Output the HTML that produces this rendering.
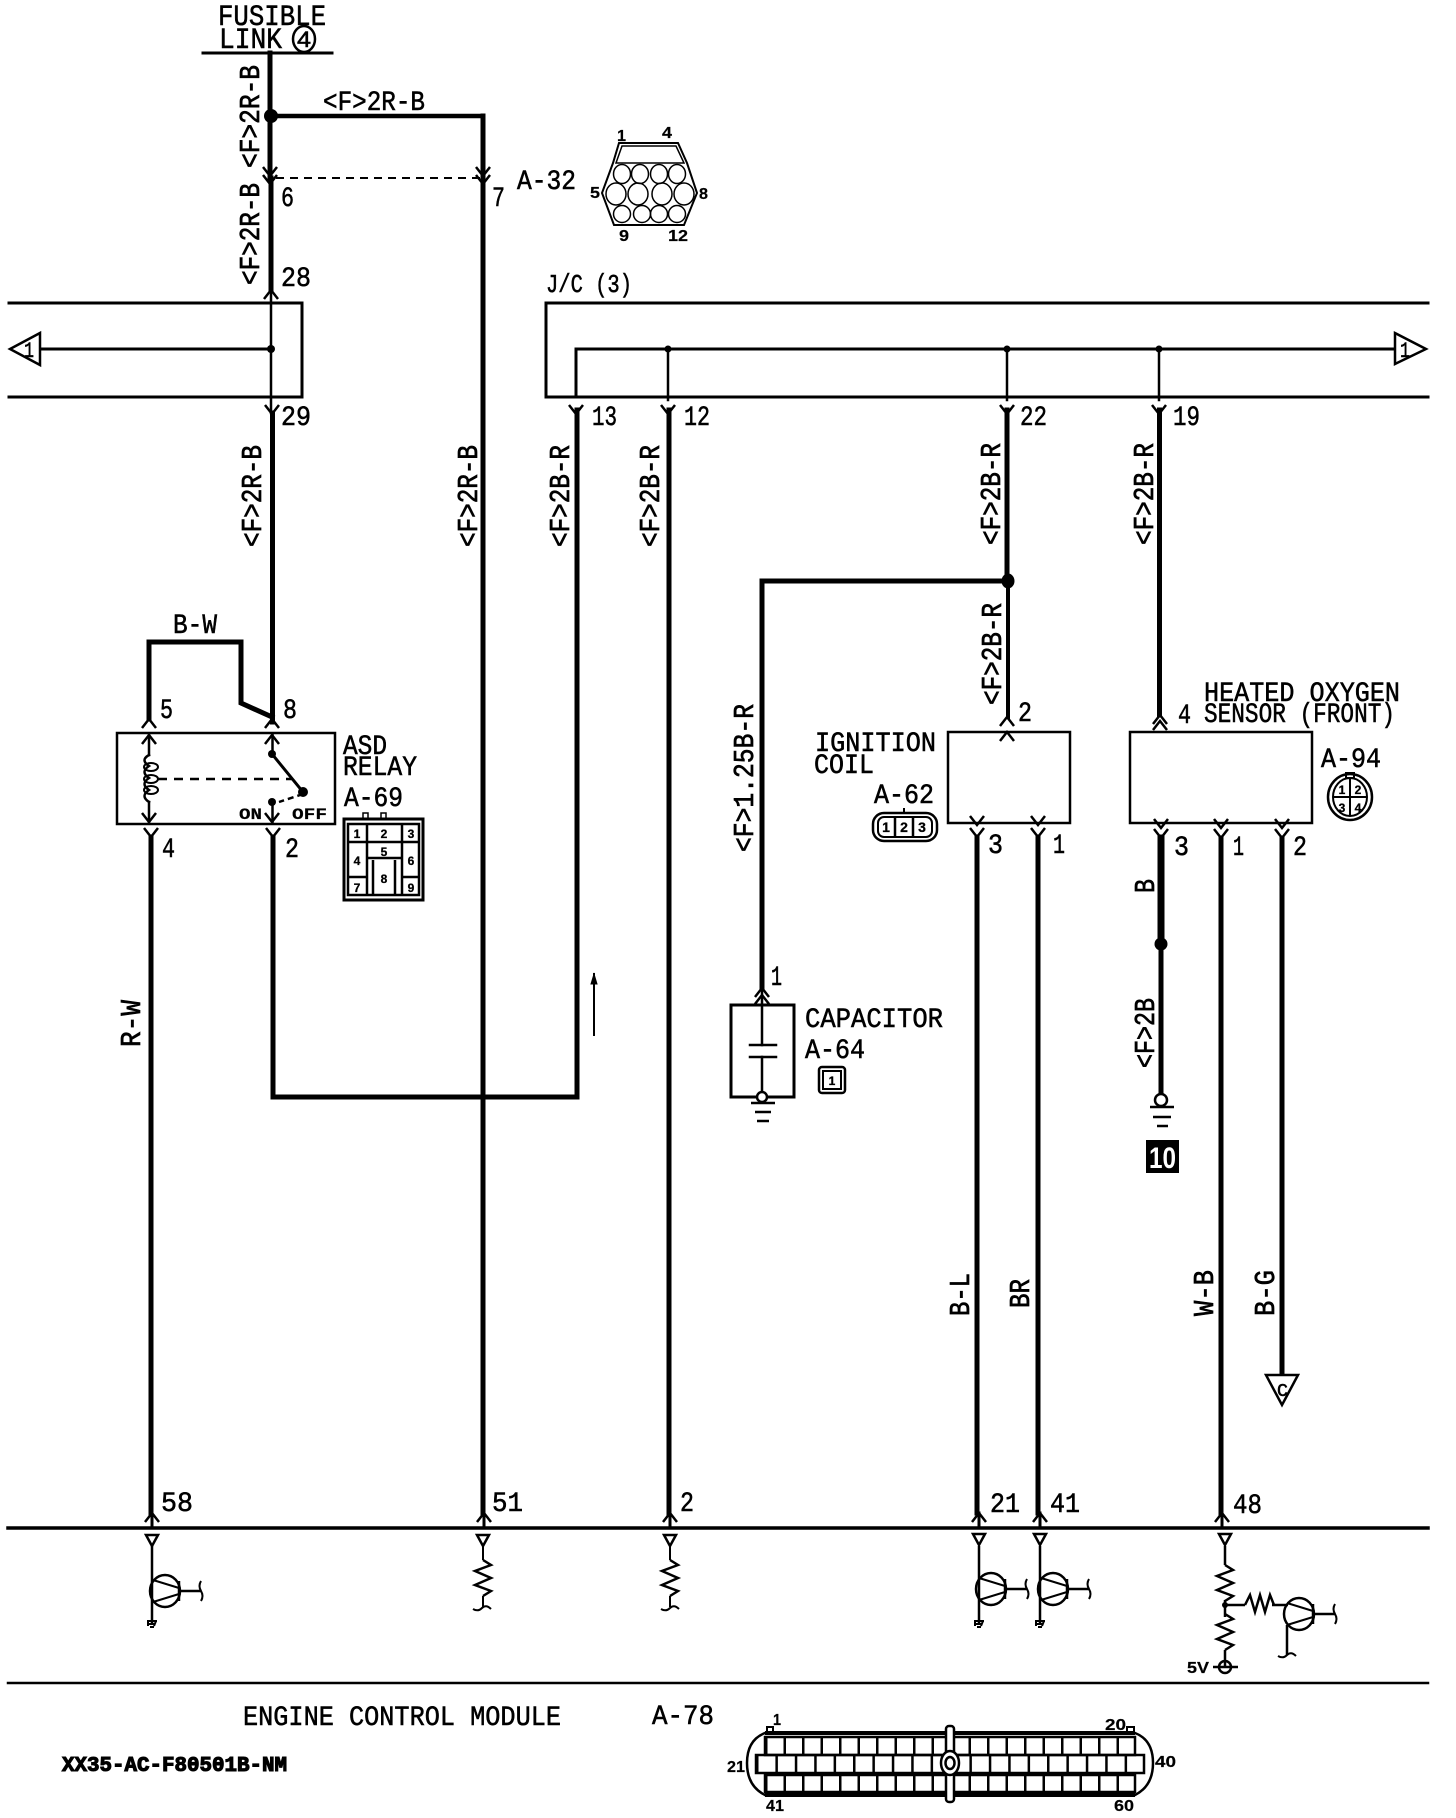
<!DOCTYPE html>
<html><head><meta charset="utf-8"><style>
html,body{margin:0;padding:0;background:#fff}
svg{display:block}
text{font-family:"Liberation Mono",monospace;fill:#000;font-size:28px;stroke:#000;stroke-width:.55}
.r{font-size:29px;stroke-width:.7}
.s{font-family:"Liberation Sans",sans-serif;font-weight:bold;font-size:16px;stroke-width:.2}
.c{font-family:"Liberation Sans",sans-serif;font-weight:bold;font-size:12px;text-anchor:middle;stroke-width:.3}
</style></head><body>
<svg width="1456" height="1818" viewBox="0 0 1456 1818" xmlns="http://www.w3.org/2000/svg">
<defs>
<path id="d" d="M-7,-9 L0,0 L7,-9" fill="none" stroke="#000" stroke-width="2.5"/>
<path id="u" d="M-7,9 L0,0 L7,9" fill="none" stroke="#000" stroke-width="2.5"/>
<path id="tri" d="M-6,0 H6 L0,11 Z" fill="#fff" stroke="#000" stroke-width="2.5"/>
<path id="sq" d="M-9,3 Q-4,6 0,2 Q4,-2 9,3" fill="none" stroke="#000" stroke-width="2"/>
<path id="gnd" d="M-5,-3 H5 M-3,0 H3 M-2,3 H2 M-4,-3 L-4,2 M4,-3 L2,2" fill="none" stroke="#000" stroke-width="2"/>
<g id="res" fill="none" stroke="#000" stroke-width="2.5"><path d="M0,0 L8,5 L-8,11 L8,18 L-8,25 L8,31 L0,36"/></g>
<g id="tr" fill="none" stroke="#000"><ellipse cx="0" cy="0" rx="15" ry="16" stroke-width="2.5"/><path d="M14,-10 V10" stroke-width="2.5"/><path d="M14,-3 L-12,-11 M14,3 L-12,11" stroke-width="2"/><path d="M14,0 H36" stroke-width="2.5"/><path d="M36,-10 Q33,-5 36,0 Q39,5 36,10" stroke-width="2"/></g>
<pattern id="pa" x="765" y="0" width="18.5" height="20" patternUnits="userSpaceOnUse"><rect width="2.5" height="20" fill="#000"/></pattern>
<pattern id="pb" x="756" y="0" width="19.4" height="20" patternUnits="userSpaceOnUse"><rect width="2.5" height="20" fill="#000"/></pattern>
</defs>

<g fill="none" stroke="#000" stroke-linecap="square">
<!-- frame -->
<path d="M203,53 H332" stroke-width="3"/>
<path d="M9,303 H302 V397 H9" stroke-width="3"/>
<path d="M1428,303 H546 V397 H1428" stroke-width="3"/>
<path d="M8,1528 H1428" stroke-width="3.5"/>
<path d="M8,1683 H1428" stroke-width="2.5"/>
<path d="M40,349 H271" stroke-width="3"/>
<path d="M576,397 V349 H1396" stroke-width="3"/>
<!-- top wires -->
<path d="M270,53 V178 M271,178 V290" stroke-width="5"/>
<path d="M271,290 V413" stroke-width="2.5"/>
<path d="M272.500,413 V722" stroke-width="5"/>
<path d="M270,116 H483" stroke-width="4.500"/>
<path d="M483,116 V1513" stroke-width="5"/>
<path d="M577,410 V1097 H273 V837" stroke-width="5"/>
<path d="M668,349 V400" stroke-width="2.500"/>
<path d="M669,410 V1513" stroke-width="5"/>
<path d="M1007,349 V400" stroke-width="2.500"/>
<path d="M1007,410 V581" stroke-width="5"/>
<path d="M1008,581 V717" stroke-width="4"/>
<path d="M1007,581 H762 V988" stroke-width="5"/>
<path d="M1159,349 V400" stroke-width="2.500"/>
<path d="M1159.500,410 V715" stroke-width="5"/>
<path d="M149,719 V642 H241 V703 L272,717" stroke-width="5"/>
<path d="M151,837 V1513" stroke-width="5"/>
<path d="M977,837 V1513" stroke-width="5"/>
<path d="M1038,837 V1513" stroke-width="5"/>
<path d="M1161,838 V944" stroke-width="7"/>
<path d="M1161,944 V1097" stroke-width="5"/>
<path d="M1221,838 V1513" stroke-width="5"/>
<path d="M1282,838 V1375" stroke-width="5"/>
<path d="M276,178 H483" stroke-width="2" stroke-dasharray="8 6" stroke-linecap="butt"/>
<path d="M594,1035 V974" stroke-width="2"/>
<path d="M152,1513 V1528 M484,1513 V1528 M670,1513 V1528 M979,1513 V1528 M1040,1513 V1528 M1222,1513 V1528" stroke-width="3"/>
<!-- boxes -->
<rect x="117" y="733" width="218" height="91" stroke-width="2.500"/>
<rect x="948" y="732" width="122" height="91" stroke-width="2.500"/>
<rect x="1130" y="732" width="182" height="91" stroke-width="2.500"/>
<rect x="731" y="1005" width="63" height="92" stroke-width="3"/>
<!-- relay internals -->
<path d="M149,735 V755 M149,802 V822 M272.500,735 V754 M272.500,802 V822" stroke-width="2.500"/>
<path d="M149,755 Q140,760 149,766 Q140,772 149,778 Q140,784 149,790 Q140,796 149,802" stroke-width="2.500"/>
<ellipse cx="151" cy="767" rx="7" ry="4" stroke-width="2"/><ellipse cx="151" cy="779" rx="7" ry="4" stroke-width="2"/><ellipse cx="151" cy="790" rx="7" ry="4" stroke-width="2"/>
<path d="M158,779 H293" stroke-width="2.500" stroke-dasharray="9 7" stroke-linecap="butt"/>
<path d="M272,754 L303,792" stroke-width="3"/>
<path d="M303,794 L279,802" stroke-width="2.500" stroke-dasharray="6 4" stroke-linecap="butt"/>
<!-- capacitor -->
<path d="M762,988 V1045 M762,1057 V1097" stroke-width="2.500"/>
<path d="M750,1045 H776 M750,1057 H776" stroke-width="2.500"/>
<circle cx="762" cy="1097" r="5" fill="#fff" stroke-width="2.500"/>
<path d="M751,1103 H775 M755,1112 H771 M757,1121 H769" stroke-width="2.500" stroke-linecap="butt"/>
<circle cx="1161" cy="1100" r="6" fill="#fff" stroke-width="2.500"/>
<path d="M1150,1107 H1174 M1153,1117 H1171 M1157,1126 H1168" stroke-width="2.500" stroke-linecap="butt"/>
<!-- triangles -->
<path d="M40,333 V365 L10,349 Z" fill="#fff" stroke-width="2.500"/>
<path d="M1395,333 V364 L1426,349 Z" fill="#fff" stroke-width="2.500"/>
<path d="M1271,1375 H1303 L1287,1405 Z" fill="#fff" stroke-width="2.500" transform="translate(-5,0)"/>
<path d="M594,974 L591,984 H597 Z" fill="#000" stroke-width="1"/>
</g>

<!-- junctions -->
<g fill="#000" stroke="none">
<ellipse cx="271" cy="116" rx="7" ry="7"/>
<circle cx="271" cy="349" r="4"/>
<circle cx="668" cy="349" r="3.500"/><circle cx="1007" cy="349" r="3.500"/><circle cx="1159" cy="349" r="3.500"/>
<ellipse cx="1008" cy="581" rx="6.500" ry="7.500"/>
<ellipse cx="1161" cy="944" rx="6.500" ry="6.500"/>
<circle cx="272" cy="754" r="4"/><circle cx="272" cy="802" r="4"/><circle cx="303" cy="792" r="5"/>
</g>

<!-- chevrons -->
<use href="#d" x="270" y="176"/><use href="#d" x="270" y="184"/>
<use href="#d" x="483" y="176"/><use href="#d" x="483" y="184"/>
<use href="#u" x="271" y="290"/>
<use href="#d" x="272" y="414"/><use href="#d" x="576" y="414"/><use href="#d" x="668" y="414"/><use href="#d" x="1007" y="414"/><use href="#d" x="1159" y="414"/>
<use href="#u" x="149" y="719"/><use href="#u" x="149" y="735"/><use href="#u" x="272" y="719"/><use href="#u" x="272" y="735"/>
<use href="#d" x="149" y="822"/><use href="#d" x="151" y="837"/><use href="#d" x="272" y="822"/><use href="#d" x="273" y="837"/>
<use href="#u" x="1007" y="717"/><use href="#u" x="1007" y="732"/>
<use href="#u" x="1160" y="715"/><use href="#u" x="1160" y="721"/>
<use href="#u" x="762" y="988"/><use href="#u" x="762" y="995"/>
<use href="#d" x="977" y="825"/><use href="#d" x="977" y="837"/><use href="#d" x="1038" y="825"/><use href="#d" x="1038" y="837"/>
<use href="#d" x="1161" y="828"/><use href="#d" x="1161" y="838"/><use href="#d" x="1221" y="828"/><use href="#d" x="1221" y="838"/><use href="#d" x="1282" y="828"/><use href="#d" x="1282" y="838"/>
<use href="#u" x="152" y="1513"/><use href="#u" x="484" y="1513"/><use href="#u" x="670" y="1513"/><use href="#u" x="979" y="1513"/><use href="#u" x="1040" y="1513"/><use href="#u" x="1222" y="1513"/>

<!-- ECU internals -->
<g fill="none" stroke="#000" stroke-width="2.500">
<use href="#tri" x="152" y="1535"/><use href="#tri" x="483" y="1535"/><use href="#tri" x="670" y="1535"/><use href="#tri" x="979" y="1534"/><use href="#tri" x="1040" y="1534"/><use href="#tri" x="1225" y="1534"/>
<path d="M152,1546 V1623 M979,1546 V1623 M1040,1546 V1623" stroke-width="2.500"/>
<path d="M483,1546 V1560 M483,1596 V1607 M670,1546 V1560 M670,1596 V1607" stroke-width="2"/>
<path d="M1225,1546 V1565 M1225,1600 V1617 M1225,1650 V1667" stroke-width="2.500"/>
<path d="M1225,1605 H1245 M1272,1605 H1288 M1287,1625 V1655" stroke-width="2.500"/>
<path d="M1245,1605 L1250,1595 L1255,1612 L1260,1595 L1265,1612 L1270,1595 L1274,1605" stroke-width="2.500"/>
<circle cx="1225" cy="1667" r="6"/><path d="M1213,1667 H1238" />
</g>
<use href="#tr" x="165" y="1591"/><use href="#tr" x="991" y="1589"/><use href="#tr" x="1053" y="1589"/><use href="#tr" x="1299" y="1614"/>
<use href="#res" x="483" y="1560"/><use href="#res" x="670" y="1560"/><use href="#res" x="1225" y="1565"/><use href="#res" x="1225" y="1614"/>
<use href="#sq" x="482" y="1606"/><use href="#sq" x="670" y="1606"/><use href="#sq" x="1287" y="1653"/>
<use href="#gnd" x="152" y="1624"/><use href="#gnd" x="979" y="1624"/><use href="#gnd" x="1040" y="1624"/>
<circle cx="1225" cy="1605" r="3" fill="#000"/>

<!-- A-32 connector -->
<g fill="none" stroke="#000" stroke-width="2">
<path d="M619,143 H678 L687,163 L697,193 L684,225 H614 L602,193 L613,163 Z"/>
<path d="M622,146 H676 L684,163 H616 Z" stroke-width="1.500"/>
<ellipse cx="622" cy="174" rx="8.500" ry="9.500" stroke-width="1.500"/><ellipse cx="640" cy="174" rx="8.500" ry="9.500" stroke-width="1.500"/><ellipse cx="659" cy="174" rx="8.500" ry="9.500" stroke-width="1.500"/><ellipse cx="677" cy="174" rx="8.500" ry="9.500" stroke-width="1.500"/>
<ellipse cx="616" cy="194" rx="10" ry="11" stroke-width="1.500"/><ellipse cx="638" cy="194" rx="10" ry="11" stroke-width="1.500"/><ellipse cx="662" cy="194" rx="10" ry="11" stroke-width="1.500"/><ellipse cx="684" cy="194" rx="10" ry="11" stroke-width="1.500"/>
<ellipse cx="622" cy="214" rx="8.500" ry="8.500" stroke-width="1.500"/><ellipse cx="642" cy="214" rx="8.500" ry="8.500" stroke-width="1.500"/><ellipse cx="659" cy="214" rx="8.500" ry="8.500" stroke-width="1.500"/><ellipse cx="677" cy="214" rx="8.500" ry="8.500" stroke-width="1.500"/>
</g>

<!-- A-69 connector -->
<g fill="none" stroke="#000">
<rect x="344" y="819" width="79" height="81" stroke-width="3"/>
<rect x="348" y="824" width="71" height="71" stroke-width="2.500"/>
<path d="M367,824 V895 M402,824 V895 M348,842 H419 M367,858 H402 M348,877 H367 M402,877 H419 M373,860 V895 M395,860 V895" stroke-width="2.500"/>
<rect x="363" y="813" width="5" height="6" stroke-width="1.500"/><rect x="381" y="813" width="5" height="6" stroke-width="1.500"/>
</g>
<text class="c" x="357" y="838">1</text><text class="c" x="384" y="838">2</text><text class="c" x="411" y="838">3</text>
<text class="c" x="357" y="865">4</text><text class="c" x="384" y="856">5</text><text class="c" x="411" y="865">6</text>
<text class="c" x="357" y="892">7</text><text class="c" x="384" y="883">8</text><text class="c" x="411" y="892">9</text>

<!-- A-62 connector -->
<g fill="none" stroke="#000" stroke-width="2.500">
<rect x="873" y="813" width="64" height="28" rx="11"/>
<rect x="878" y="817" width="54" height="20" rx="6" stroke-width="2"/>
<path d="M895,817 V837 M913,817 V837" stroke-width="2.500"/>
<path d="M904,812 V808" stroke-width="2"/>
</g>
<text class="c" x="886" y="832" style="font-size:14px">1</text><text class="c" x="904" y="832" style="font-size:14px">2</text><text class="c" x="922" y="832" style="font-size:14px">3</text>

<!-- A-94 connector -->
<g fill="none" stroke="#000" stroke-width="2.500">
<ellipse cx="1350" cy="797" rx="22" ry="23"/>
<ellipse cx="1350" cy="797" rx="17" ry="19" stroke-width="2"/>
<path d="M1350,778 V816 M1333,797 H1367" stroke-width="2"/>
<rect x="1346" y="773" width="8" height="5" stroke-width="2"/>
</g>
<text class="c" x="1342" y="794" style="font-size:12px">1</text><text class="c" x="1358" y="794" style="font-size:12px">2</text><text class="c" x="1342" y="812" style="font-size:12px">3</text><text class="c" x="1358" y="812" style="font-size:12px">4</text>

<!-- A-64 connector -->
<g fill="none" stroke="#000"><rect x="819" y="1067" width="26" height="26" rx="3" stroke-width="2.500"/><rect x="823" y="1071" width="18" height="18" stroke-width="2"/></g>
<text class="c" x="832" y="1085">1</text>

<!-- ECU connector -->
<g fill="none" stroke="#000">
<path d="M765,1733 H1135 Q1153,1740 1153,1763 Q1153,1786 1135,1795 H765 Q747,1786 747,1763 Q747,1740 765,1733 Z" stroke-width="2.500"/>
<path d="M765,1733 H1135 M765,1795 H1135" stroke-width="4"/>
<rect x="765" y="1737" width="370" height="18" stroke-width="2.500"/>
<rect x="756" y="1755" width="388" height="18" stroke-width="2.500"/>
<rect x="765" y="1775" width="370" height="17" stroke-width="2.500"/>
</g>
<rect x="765" y="1737" width="370" height="18" fill="url(#pa)"/>
<rect x="756" y="1755" width="388" height="18" fill="url(#pb)"/>
<rect x="765" y="1775" width="370" height="17" fill="url(#pa)"/>
<rect x="946" y="1726" width="8" height="76" rx="3" fill="#fff" stroke="#000" stroke-width="2.500"/>
<ellipse cx="950" cy="1763" rx="9" ry="12" fill="#fff" stroke="#000" stroke-width="2.500"/>
<ellipse cx="950" cy="1763" rx="4.500" ry="6" fill="#fff" stroke="#000" stroke-width="2.500"/>
<rect x="767" y="1727" width="6" height="5" fill="#fff" stroke="#000" stroke-width="2"/>
<rect x="1127" y="1727" width="7" height="5" fill="#fff" stroke="#000" stroke-width="2"/>

<!-- horizontal labels -->
<text x="218" y="25" textLength="108" lengthAdjust="spacingAndGlyphs" style="font-size:30px">FUSIBLE</text>
<text x="219" y="48" textLength="63" lengthAdjust="spacingAndGlyphs" style="font-size:30px">LINK</text>
<ellipse cx="304" cy="39" rx="11" ry="13" fill="none" stroke="#000" stroke-width="2.500"/>
<text x="297" y="47" textLength="14" lengthAdjust="spacingAndGlyphs" style="font-size:22px;font-family:'Liberation Sans'">4</text>
<text x="323" y="110" textLength="102" lengthAdjust="spacingAndGlyphs">&lt;F&gt;2R-B</text>
<text x="281" y="206" textLength="13" lengthAdjust="spacingAndGlyphs">6</text>
<text x="492" y="206" textLength="13" lengthAdjust="spacingAndGlyphs">7</text>
<text x="517" y="189" textLength="59" lengthAdjust="spacingAndGlyphs">A-32</text>
<text x="281" y="286" textLength="30" lengthAdjust="spacingAndGlyphs">28</text>
<text x="546" y="292" textLength="86" lengthAdjust="spacingAndGlyphs" style="font-size:26px">J/C (3)</text>
<text x="281" y="425" textLength="30" lengthAdjust="spacingAndGlyphs">29</text>
<text x="592" y="425" textLength="25" lengthAdjust="spacingAndGlyphs">13</text>
<text x="684" y="425" textLength="26" lengthAdjust="spacingAndGlyphs">12</text>
<text x="1020" y="425" textLength="27" lengthAdjust="spacingAndGlyphs">22</text>
<text x="1173" y="425" textLength="27" lengthAdjust="spacingAndGlyphs">19</text>
<text x="173" y="633" textLength="44" lengthAdjust="spacingAndGlyphs">B-W</text>
<text x="160" y="718" textLength="13" lengthAdjust="spacingAndGlyphs">5</text>
<text x="283" y="718" textLength="14" lengthAdjust="spacingAndGlyphs">8</text>
<text x="162" y="857" textLength="13" lengthAdjust="spacingAndGlyphs">4</text>
<text x="285" y="857" textLength="14" lengthAdjust="spacingAndGlyphs">2</text>
<text x="343" y="754" textLength="44" lengthAdjust="spacingAndGlyphs">ASD</text>
<text x="343" y="775" textLength="74" lengthAdjust="spacingAndGlyphs">RELAY</text>
<text x="344" y="806" textLength="59" lengthAdjust="spacingAndGlyphs">A-69</text>
<text class="s" x="239" y="819" textLength="23" lengthAdjust="spacingAndGlyphs" style="font-family:'Liberation Mono'">ON</text>
<text class="s" x="292" y="819" textLength="35" lengthAdjust="spacingAndGlyphs" style="font-family:'Liberation Mono'">OFF</text>
<text x="1018" y="721" textLength="14" lengthAdjust="spacingAndGlyphs">2</text>
<text x="1178" y="723" textLength="13" lengthAdjust="spacingAndGlyphs">4</text>
<text x="1204" y="701" textLength="196" lengthAdjust="spacingAndGlyphs">HEATED OXYGEN</text>
<text x="1204" y="722" textLength="191" lengthAdjust="spacingAndGlyphs">SENSOR (FRONT)</text>
<text x="815" y="751" textLength="121" lengthAdjust="spacingAndGlyphs">IGNITION</text>
<text x="814" y="773" textLength="60" lengthAdjust="spacingAndGlyphs">COIL</text>
<text x="874" y="803" textLength="60" lengthAdjust="spacingAndGlyphs">A-62</text>
<text x="1321" y="767" textLength="60" lengthAdjust="spacingAndGlyphs">A-94</text>
<text x="988" y="853" textLength="15" lengthAdjust="spacingAndGlyphs">3</text>
<text x="1053" y="853" textLength="12" lengthAdjust="spacingAndGlyphs">1</text>
<text x="1174" y="855" textLength="15" lengthAdjust="spacingAndGlyphs">3</text>
<text x="1233" y="855" textLength="11" lengthAdjust="spacingAndGlyphs">1</text>
<text x="1293" y="855" textLength="14" lengthAdjust="spacingAndGlyphs">2</text>
<text x="771" y="985" textLength="11" lengthAdjust="spacingAndGlyphs">1</text>
<text x="805" y="1027" textLength="138" lengthAdjust="spacingAndGlyphs">CAPACITOR</text>
<text x="805" y="1058" textLength="60" lengthAdjust="spacingAndGlyphs">A-64</text>
<rect x="1146" y="1140" width="33" height="33" fill="#000"/>
<text x="1149" y="1168" textLength="27" lengthAdjust="spacingAndGlyphs" style="fill:#fff;stroke:none;font-size:30px;font-weight:bold;font-family:'Liberation Sans'">10</text>
<text x="161" y="1511" textLength="32" lengthAdjust="spacingAndGlyphs">58</text>
<text x="492" y="1511" textLength="31" lengthAdjust="spacingAndGlyphs">51</text>
<text x="680" y="1511" textLength="14" lengthAdjust="spacingAndGlyphs">2</text>
<text x="990" y="1512" textLength="30" lengthAdjust="spacingAndGlyphs">21</text>
<text x="1050" y="1512" textLength="30" lengthAdjust="spacingAndGlyphs">41</text>
<text x="1233" y="1513" textLength="29" lengthAdjust="spacingAndGlyphs">48</text>
<text x="243" y="1725" textLength="318" lengthAdjust="spacingAndGlyphs">ENGINE CONTROL MODULE</text>
<text x="652" y="1724" textLength="62" lengthAdjust="spacingAndGlyphs">A-78</text>
<text x="62" y="1771" textLength="225" lengthAdjust="spacingAndGlyphs" style="font-size:21px;font-weight:bold;font-family:'Liberation Mono';stroke:#000;stroke-width:1.1">XX35-AC-F80501B-NM</text>
<text class="s" x="1187" y="1673" textLength="22" lengthAdjust="spacingAndGlyphs">5V</text>
<text class="s" x="617" y="141" textLength="9" lengthAdjust="spacingAndGlyphs">1</text>
<text class="s" x="662" y="138" textLength="10" lengthAdjust="spacingAndGlyphs">4</text>
<text class="s" x="590" y="198" textLength="10" lengthAdjust="spacingAndGlyphs">5</text>
<text class="s" x="699" y="199" textLength="9" lengthAdjust="spacingAndGlyphs">8</text>
<text class="s" x="619" y="241" textLength="10" lengthAdjust="spacingAndGlyphs">9</text>
<text class="s" x="668" y="241" textLength="20" lengthAdjust="spacingAndGlyphs">12</text>
<text class="s" x="773" y="1725" textLength="8" lengthAdjust="spacingAndGlyphs">1</text>
<text class="s" x="1105" y="1730" textLength="21" lengthAdjust="spacingAndGlyphs">20</text>
<text class="s" x="727" y="1772" textLength="18" lengthAdjust="spacingAndGlyphs">21</text>
<text class="s" x="1155" y="1767" textLength="21" lengthAdjust="spacingAndGlyphs">40</text>
<text class="s" x="766" y="1811" textLength="18" lengthAdjust="spacingAndGlyphs">41</text>
<text class="s" x="1114" y="1811" textLength="20" lengthAdjust="spacingAndGlyphs">60</text>
<text x="24" y="357" textLength="10" lengthAdjust="spacingAndGlyphs" style="font-size:22px">1</text>
<text x="1400" y="357" textLength="10" lengthAdjust="spacingAndGlyphs" style="font-size:22px">1</text>
<text x="1277" y="1396" textLength="11" lengthAdjust="spacingAndGlyphs" style="font-size:18px">C</text>

<!-- rotated labels -->
<g>
<text class="r" transform="translate(259,168) rotate(-90)" textLength="103" lengthAdjust="spacingAndGlyphs">&lt;F&gt;2R-B</text>
<text class="r" transform="translate(259,285) rotate(-90)" textLength="102" lengthAdjust="spacingAndGlyphs">&lt;F&gt;2R-B</text>
<text class="r" transform="translate(261,547) rotate(-90)" textLength="102" lengthAdjust="spacingAndGlyphs">&lt;F&gt;2R-B</text>
<text class="r" transform="translate(477,547) rotate(-90)" textLength="102" lengthAdjust="spacingAndGlyphs">&lt;F&gt;2R-B</text>
<text class="r" transform="translate(569,547) rotate(-90)" textLength="102" lengthAdjust="spacingAndGlyphs">&lt;F&gt;2B-R</text>
<text class="r" transform="translate(659,547) rotate(-90)" textLength="102" lengthAdjust="spacingAndGlyphs">&lt;F&gt;2B-R</text>
<text class="r" transform="translate(1000,545) rotate(-90)" textLength="102" lengthAdjust="spacingAndGlyphs">&lt;F&gt;2B-R</text>
<text class="r" transform="translate(1153,545) rotate(-90)" textLength="102" lengthAdjust="spacingAndGlyphs">&lt;F&gt;2B-R</text>
<text class="r" transform="translate(1001,705) rotate(-90)" textLength="102" lengthAdjust="spacingAndGlyphs">&lt;F&gt;2B-R</text>
<text class="r" transform="translate(753,852) rotate(-90)" textLength="148" lengthAdjust="spacingAndGlyphs">&lt;F&gt;1.25B-R</text>
<text class="r" transform="translate(1154,893) rotate(-90)" textLength="14" lengthAdjust="spacingAndGlyphs">B</text>
<text class="r" transform="translate(1154,1068) rotate(-90)" textLength="70" lengthAdjust="spacingAndGlyphs">&lt;F&gt;2B</text>
<text class="r" transform="translate(140,1047) rotate(-90)" textLength="47" lengthAdjust="spacingAndGlyphs">R-W</text>
<text class="r" transform="translate(969,1316) rotate(-90)" textLength="43" lengthAdjust="spacingAndGlyphs">B-L</text>
<text class="r" transform="translate(1029,1308) rotate(-90)" textLength="29" lengthAdjust="spacingAndGlyphs">BR</text>
<text class="r" transform="translate(1213,1316) rotate(-90)" textLength="46" lengthAdjust="spacingAndGlyphs">W-B</text>
<text class="r" transform="translate(1274,1316) rotate(-90)" textLength="46" lengthAdjust="spacingAndGlyphs">B-G</text>
</g>
</svg>
</body></html>
